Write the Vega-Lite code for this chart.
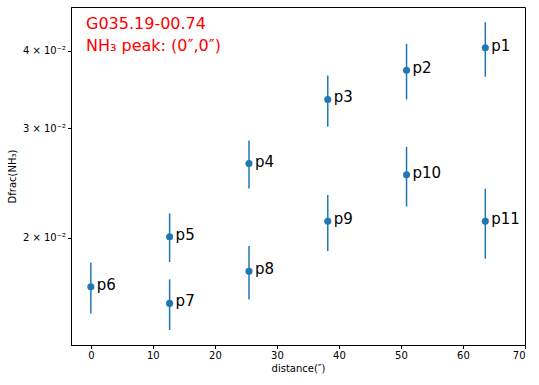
{
  "$schema": "https://vega.github.io/schema/vega-lite/v6.json",
  "width": 454,
  "height": 338,
  "autosize": "none",
  "padding": {"left": 71, "top": 7, "right": 14, "bottom": 40},
  "background": "white",
  "title": {
    "text": ["G035.19-00.74", "NH₃ peak: (0″,0″)"],
    "orient": "top",
    "anchor": "start",
    "frame": "group",
    "color": "red",
    "font": "DejaVu Sans",
    "fontSize": 16,
    "fontWeight": "normal",
    "lineHeight": 22,
    "baseline": "top",
    "offset": 0,
    "dx": 15,
    "dy": 47
  },
  "config": {
    "view": {"stroke": "black", "strokeWidth": 1},
    "font": "DejaVu Sans",
    "axis": {
      "domainColor": "black",
      "tickColor": "black",
      "labelColor": "black",
      "titleColor": "black",
      "labelFont": "DejaVu Sans",
      "titleFont": "DejaVu Sans",
      "labelFontSize": 10,
      "titleFontSize": 10,
      "titleFontWeight": "normal",
      "grid": false,
      "tickSize": 3.5
    }
  },
  "data": {
    "values": [
      {"name": "p1", "d": 63.6, "v": 0.04042, "lo": 0.03630, "hi": 0.04443},
      {"name": "p2", "d": 50.9, "v": 0.03720, "lo": 0.03338, "hi": 0.04102},
      {"name": "p3", "d": 38.2, "v": 0.03338, "lo": 0.03017, "hi": 0.03648},
      {"name": "p4", "d": 25.5, "v": 0.02633, "lo": 0.02401, "hi": 0.02868},
      {"name": "p5", "d": 12.7, "v": 0.02007, "lo": 0.01827, "hi": 0.02188},
      {"name": "p6", "d": 0, "v": 0.01668, "lo": 0.01511, "hi": 0.01823},
      {"name": "p7", "d": 12.7, "v": 0.01568, "lo": 0.01421, "hi": 0.01714},
      {"name": "p8", "d": 25.5, "v": 0.01766, "lo": 0.01591, "hi": 0.01939},
      {"name": "p9", "d": 38.2, "v": 0.02126, "lo": 0.01904, "hi": 0.02342},
      {"name": "p10", "d": 50.9, "v": 0.02525, "lo": 0.02244, "hi": 0.02801},
      {"name": "p11", "d": 63.6, "v": 0.02126, "lo": 0.01850, "hi": 0.02398}
    ]
  },
  "encoding": {
    "x": {
      "field": "d", "type": "quantitative",
      "scale": {"domain": [-3.2, 70], "nice": false, "zero": false},
      "axis": {"values": [0, 10, 20, 30, 40, 50, 60, 70], "title": "distance(″)", "titlePadding": 3}
    },
    "y": {
      "field": "v", "type": "quantitative",
      "scale": {"type": "log", "domain": [0.01344, 0.04702], "nice": false},
      "axis": {
        "values": [0.02, 0.03, 0.04],
        "labelExpr": "datum.value < 0.025 ? '2 × 10⁻²' : datum.value < 0.035 ? '3 × 10⁻²' : '4 × 10⁻²'",
        "title": "Dfrac(NH₃)",
        "titlePadding": 5
      }
    }
  },
  "layer": [
    {
      "mark": {"type": "rule", "color": "#1f77b4", "strokeWidth": 1.5},
      "encoding": {"y": {"field": "lo", "type": "quantitative"}, "y2": {"field": "hi"}}
    },
    {
      "mark": {"type": "circle", "color": "#1f77b4", "opacity": 1, "size": 50}
    },
    {
      "mark": {"type": "text", "align": "left", "baseline": "middle", "dx": 6, "dy": -2, "fontSize": 15, "color": "black"},
      "encoding": {"text": {"field": "name"}}
    }
  ]
}
